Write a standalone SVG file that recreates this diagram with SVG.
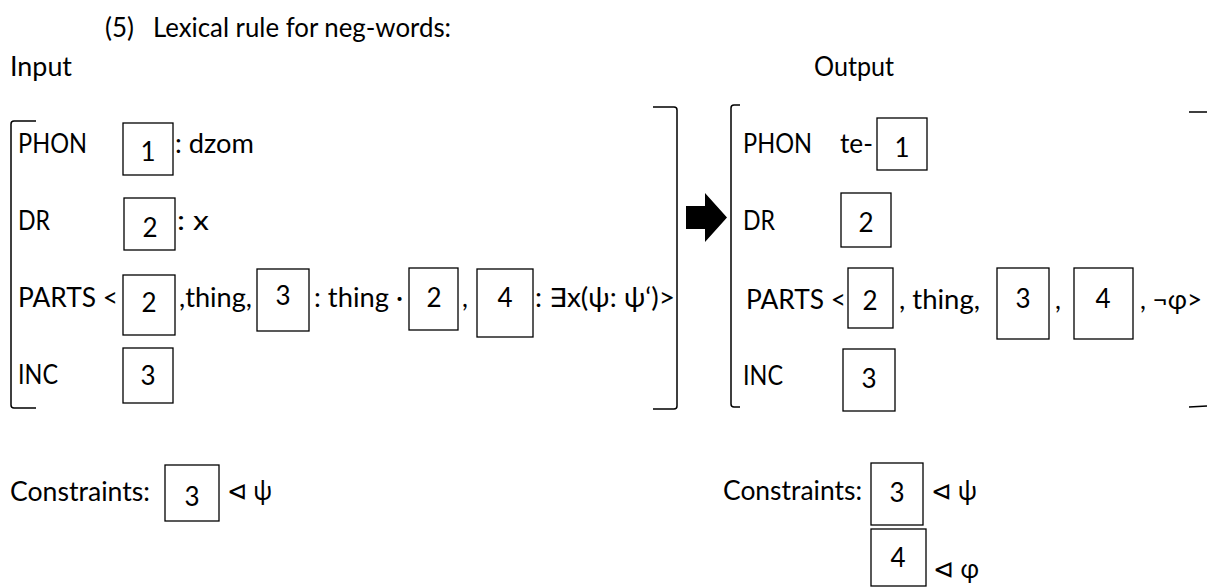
<svg xmlns="http://www.w3.org/2000/svg" width="1209" height="588" viewBox="0 0 1209 588">
  <style>
    text { font-family: Lato, "DejaVu Sans", sans-serif; font-size: 26px; fill: #000; }
    .n { text-anchor: middle; }
    .box { fill: none; stroke: #000; stroke-width: 1.3; }
    .br { fill: none; stroke: #000; stroke-width: 1.5; }
  </style>
  <rect width="1209" height="588" fill="#fff"/>

  <!-- heading -->
  <g id="title">
    <text x="105" y="37">(5)</text>
    <text x="153" y="37" textLength="298" lengthAdjust="spacingAndGlyphs">Lexical rule for neg-words:</text>
    <text x="10" y="76" textLength="62" lengthAdjust="spacingAndGlyphs">Input</text>
    <text x="814" y="76" textLength="80" lengthAdjust="spacingAndGlyphs">Output</text>
  </g>

  <!-- input attribute-value matrix -->
  <g id="input-avm">
    <path class="br" d="M36,121 L14,121 Q11,121 11,124 L11,405 Q11,408 14,408 L36,408"/>
    <path class="br" d="M653,107 L674,107 Q677,107 677,110 L677,406 Q677,409 674,409 L653,409"/>

    <text x="18" y="153" textLength="69" lengthAdjust="spacingAndGlyphs">PHON</text>
    <rect class="box" x="123" y="123" width="50" height="52"/>
    <text class="n" x="148" y="161">1</text>
    <text x="175" y="153" textLength="79" lengthAdjust="spacingAndGlyphs">: dzom</text>

    <text x="18" y="230" textLength="32" lengthAdjust="spacingAndGlyphs">DR</text>
    <rect class="box" x="124" y="198" width="51" height="52"/>
    <text class="n" x="150" y="237">2</text>
    <text x="177" y="230" textLength="32" lengthAdjust="spacingAndGlyphs">: x</text>

    <text x="18" y="307" textLength="100" lengthAdjust="spacingAndGlyphs">PARTS &lt;</text>
    <rect class="box" x="123" y="275" width="52" height="60"/>
    <text class="n" x="149" y="312">2</text>
    <text x="179" y="307" textLength="73" lengthAdjust="spacingAndGlyphs">,thing,</text>
    <rect class="box" x="257" y="269" width="52" height="62"/>
    <text class="n" x="283" y="305">3</text>
    <text x="314" y="307" textLength="89" lengthAdjust="spacingAndGlyphs">: thing ·</text>
    <rect class="box" x="409" y="268" width="49" height="62"/>
    <text class="n" x="434" y="307">2</text>
    <text x="462" y="307">,</text>
    <rect class="box" x="477" y="269" width="56" height="68"/>
    <text class="n" x="505" y="307">4</text>
    <text x="535" y="307" textLength="140" lengthAdjust="spacingAndGlyphs">: ∃x(ψ: ψ‘)&gt;</text>

    <text x="18" y="384" textLength="40" lengthAdjust="spacingAndGlyphs">INC</text>
    <rect class="box" x="123" y="348" width="50" height="55"/>
    <text class="n" x="148" y="385">3</text>
  </g>

  <!-- rule arrow -->
  <g id="arrow">
    <polygon points="686,206 705,206 705,193 727,217.5 705,242 705,229 686,229" fill="#000"/>
  </g>

  <!-- output attribute-value matrix -->
  <g id="output-avm">
    <path class="br" d="M740,105 L734,105 Q731,105 731,108 L731,404 Q731,407 734,407 L740,407"/>
    <path class="br" d="M1189,112 L1207,112 M1189,407 L1207,406"/>

    <text x="743" y="153" textLength="69" lengthAdjust="spacingAndGlyphs">PHON</text>
    <text x="840" y="153" textLength="33" lengthAdjust="spacingAndGlyphs">te-</text>
    <rect class="box" x="877" y="118" width="50" height="52"/>
    <text class="n" x="902" y="157">1</text>

    <text x="743" y="230" textLength="32" lengthAdjust="spacingAndGlyphs">DR</text>
    <rect class="box" x="841" y="193" width="50" height="54"/>
    <text class="n" x="866" y="232">2</text>

    <text x="746" y="309" textLength="100" lengthAdjust="spacingAndGlyphs">PARTS &lt;</text>
    <rect class="box" x="848" y="268" width="45" height="60"/>
    <text class="n" x="870" y="310">2</text>
    <text x="899" y="309" textLength="81" lengthAdjust="spacingAndGlyphs">, thing,</text>
    <rect class="box" x="997" y="268" width="52" height="71"/>
    <text class="n" x="1023" y="308">3</text>
    <text x="1055" y="309">,</text>
    <rect class="box" x="1074" y="268" width="59" height="71"/>
    <text class="n" x="1103" y="308">4</text>
    <text x="1140" y="309" textLength="62" lengthAdjust="spacingAndGlyphs">, ¬φ&gt;</text>

    <text x="743" y="385" textLength="40" lengthAdjust="spacingAndGlyphs">INC</text>
    <rect class="box" x="843" y="349" width="52" height="62"/>
    <text class="n" x="869" y="388">3</text>
  </g>

  <!-- constraints -->
  <g id="input-constraints">
    <text x="10" y="501" textLength="140" lengthAdjust="spacingAndGlyphs">Constraints:</text>
    <rect class="box" x="165" y="465" width="54" height="56"/>
    <text class="n" x="192" y="506">3</text>
    <text x="227" y="500" textLength="45" lengthAdjust="spacingAndGlyphs">⊲ ψ</text>
  </g>

  <g id="output-constraints">
    <text x="723" y="500" textLength="139" lengthAdjust="spacingAndGlyphs">Constraints:</text>
    <rect class="box" x="871" y="463" width="52" height="62"/>
    <text class="n" x="897" y="502">3</text>
    <text x="931" y="500" textLength="46" lengthAdjust="spacingAndGlyphs">⊲ ψ</text>
    <rect class="box" x="871" y="529" width="55" height="57"/>
    <text class="n" x="898" y="567">4</text>
    <text x="933" y="578" textLength="46" lengthAdjust="spacingAndGlyphs">⊲ φ</text>
  </g>
</svg>
